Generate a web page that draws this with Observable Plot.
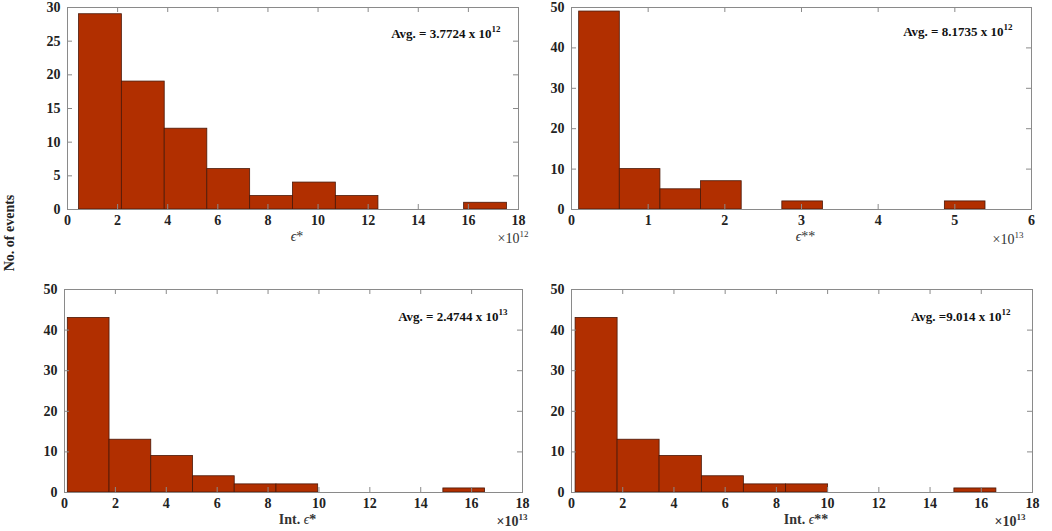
<!DOCTYPE html>
<html>
<head>
<meta charset="utf-8">
<script src="https://cdn.jsdelivr.net/npm/d3@7"></script>
<script src="https://cdn.jsdelivr.net/npm/@observablehq/plot@0.6"></script>
<style>
  body { margin: 0; background: #fff; }
  #wrap { position: relative; width: 1052px; height: 531px; overflow: hidden; background: #fff; }
  .panel { position: absolute; }
  #ylab { position: absolute; left: 10px; top: 233px; transform: translate(-50%, -50%) rotate(-90deg);
          font: bold 14px "Liberation Serif", serif; color: #222; white-space: nowrap; }
</style>
</head>
<body>
<div id="wrap">
  <div id="ylab">No. of events</div>
</div>
<script>
// ---- data (bin edges, counts, ticks) ----
const tlEdges = [0.46, 2.17, 3.88, 5.58, 7.29, 9.00, 10.71, 12.41, 14.12, 15.83, 17.54];
const tlCounts = [29, 19, 12, 6, 2, 4, 2, 0, 0, 1];
const tlXTicks = [0, 2, 4, 6, 8, 10, 12, 14, 16, 18];
const tlYTicks = [0, 5, 10, 15, 20, 25, 30];

const trEdges = [0.10, 0.63, 1.16, 1.69, 2.22, 2.75, 3.28, 3.81, 4.34, 4.87, 5.40];
const trCounts = [49, 10, 5, 7, 0, 2, 0, 0, 0, 2];
const trXTicks = [0, 1, 2, 3, 4, 5, 6];
const trYTicks = [0, 10, 20, 30, 40, 50];

const blEdges = [0.13, 1.77, 3.41, 5.05, 6.69, 8.33, 9.97, 11.61, 13.25, 14.89, 16.53];
const blCounts = [43, 13, 9, 4, 2, 2, 0, 0, 0, 1];
const blXTicks = [0, 2, 4, 6, 8, 10, 12, 14, 16, 18];
const blYTicks = [0, 10, 20, 30, 40, 50];

const brEdges = [0.16, 1.80, 3.44, 5.09, 6.73, 8.38, 10.02, 11.66, 13.31, 14.95, 16.59];
const brCounts = [43, 13, 9, 4, 2, 2, 0, 0, 0, 1];
const brXTicks = [0, 2, 4, 6, 8, 10, 12, 14, 16, 18];
const brYTicks = [0, 10, 20, 30, 40, 50];

const labels = {
  tl: {x: "ϵ*", avg: "Avg. = 3.7724 x 10¹²", expo: "×10¹²"},
  tr: {x: "ϵ**", avg: "Avg. = 8.1735 x 10¹²", expo: "×10¹³"},
  bl: {x: "Int. ϵ*", avg: "Avg. = 2.4744 x 10¹³", expo: "×10¹³"},
  br: {x: "Int. ϵ**", avg: "Avg. =9.014 x 10¹²", expo: "×10¹³"}
};

const BAR = "#b12f00";
const FRAME = "#8a8a8a";
const FONT = "Liberation Serif";
const SUP = {"⁰":"0","¹":"1","²":"2","³":"3","⁴":"4","⁵":"5","⁶":"6","⁷":"7","⁸":"8","⁹":"9"};
const NS = "http://www.w3.org/2000/svg";

// turn unicode superscripts into raised tspans, italicise epsilon
function richText(svg) {
  svg.querySelectorAll("text").forEach(t => {
    const s = t.textContent;
    if (!/[⁰¹²³⁴-⁹ϵ]/.test(s)) return;
    const parts = [];
    let buf = "", mode = "n";
    for (const ch of s) {
      const m = SUP[ch] ? "s" : (ch === "ϵ" ? "e" : "n");
      if (m !== mode && buf) { parts.push([mode, buf]); buf = ""; }
      mode = m; buf += SUP[ch] || ch;
    }
    if (buf) parts.push([mode, buf]);
    const fs = parseFloat(getComputedStyle(t).fontSize) || 13;
    t.textContent = "";
    parts.forEach(([m, str]) => {
      const sp = document.createElementNS(NS, "tspan");
      sp.textContent = str;
      if (m === "s") { sp.setAttribute("font-size", Math.round(fs * 0.68)); sp.setAttribute("dy", -fs * 0.42); }
      if (m === "e") { sp.setAttribute("font-style", "italic"); sp.setAttribute("font-weight", "normal"); }
      t.appendChild(sp);
      if (m === "s") { /* nothing follows superscript in these labels */ }
    });
  });
}

function panel(cfg) {
  const bins = cfg.counts.map((c, i) => ({x1: cfg.edges[i], x2: cfg.edges[i + 1], y: c})).filter(d => d.y > 0);
  const xMax = cfg.xTicks[cfg.xTicks.length - 1];
  const yMax = cfg.yTicks[cfg.yTicks.length - 1];
  const pw = cfg.width - cfg.ml - cfg.mr;
  const ph = cfg.height - cfg.mt - cfg.mb;
  const ty = 5 * yMax / ph;   // inward tick length in data units (5px)
  const tx = 5 * xMax / pw;
  const plot = Plot.plot({
    width: cfg.width, height: cfg.height,
    marginLeft: cfg.ml, marginRight: cfg.mr, marginTop: cfg.mt, marginBottom: cfg.mb,
    x: {domain: [0, xMax]},
    y: {domain: [0, yMax]},
    style: {fontFamily: FONT, background: "transparent", overflow: "visible"},
    marks: [
      Plot.rectY(bins, {x1: "x1", x2: "x2", y: "y", fill: BAR, stroke: "#4a1808", strokeWidth: 0.8, insetLeft: 0, insetRight: 0}),
      Plot.ruleX(cfg.xTicks, {x: d => d, y1: 0, y2: ty, stroke: FRAME}),
      Plot.ruleX(cfg.xTicks, {x: d => d, y1: yMax, y2: yMax - ty, stroke: FRAME}),
      Plot.ruleY(cfg.yTicks, {y: d => d, x1: 0, x2: tx, stroke: FRAME}),
      Plot.ruleY(cfg.yTicks, {y: d => d, x1: xMax, x2: xMax - tx, stroke: FRAME}),
      Plot.frame({stroke: FRAME, strokeWidth: 1}),
      Plot.axisX({ticks: cfg.xTicks, tickSize: 0, tickPadding: 6, label: null, fontSize: 14, fontWeight: "bold", fill: "#222", tickFormat: d => String(d)}),
      Plot.axisY({ticks: cfg.yTicks, tickSize: 0, tickPadding: 7, label: null, fontSize: 14, fontWeight: "bold", fill: "#222", tickFormat: d => String(d)}),
      Plot.text([cfg.lab.avg], {frameAnchor: "top-right", text: d => d, dx: cfg.avgDx, dy: cfg.avgDy, textAnchor: "end", fontSize: 13, fontWeight: "bold", fill: "#111"}),
      Plot.text([cfg.lab.expo], {frameAnchor: "bottom-right", text: d => d, dx: cfg.expoDx, dy: cfg.expoDy, textAnchor: "end", fontSize: 14, fontWeight: cfg.bold ? "bold" : "normal", fill: "#333"}),
      Plot.text([cfg.lab.x], {frameAnchor: "bottom", text: d => d, dx: 4, dy: cfg.labDy, fontSize: 14, fontWeight: cfg.bold ? "bold" : "normal", fill: "#333"})
    ]
  });
  richText(plot);
  const div = document.createElement("div");
  div.className = "panel";
  div.style.left = cfg.left + "px";
  div.style.top = cfg.top + "px";
  div.appendChild(plot);
  document.getElementById("wrap").appendChild(div);
}

panel({edges: tlEdges, counts: tlCounts, xTicks: tlXTicks, yTicks: tlYTicks, lab: labels.tl,
  left: 0, top: 0, width: 526, height: 265, ml: 67, mr: 8, mt: 7, mb: 56,
  avgDx: -18, avgDy: 21, expoDx: 10, expoDy: 33, labDy: 31, bold: false});
panel({edges: trEdges, counts: trCounts, xTicks: trXTicks, yTicks: trYTicks, lab: labels.tr,
  left: 526, top: 0, width: 526, height: 265, ml: 45, mr: 21, mt: 7, mb: 56,
  avgDx: -19, avgDy: 19, expoDx: -8, expoDy: 34, labDy: 31, bold: false});
panel({edges: blEdges, counts: blCounts, xTicks: blXTicks, yTicks: blYTicks, lab: labels.bl,
  left: 0, top: 265, width: 526, height: 266, ml: 64, mr: 4, mt: 24, mb: 39,
  avgDx: -15, avgDy: 22, expoDx: 5, expoDy: 33, labDy: 31, bold: true});
panel({edges: brEdges, counts: brCounts, xTicks: brXTicks, yTicks: brYTicks, lab: labels.br,
  left: 526, top: 265, width: 526, height: 266, ml: 45, mr: 20, mt: 24, mb: 39,
  avgDx: -22, avgDy: 22, expoDx: -7, expoDy: 33, labDy: 31, bold: true});
</script>
</body>
</html>
